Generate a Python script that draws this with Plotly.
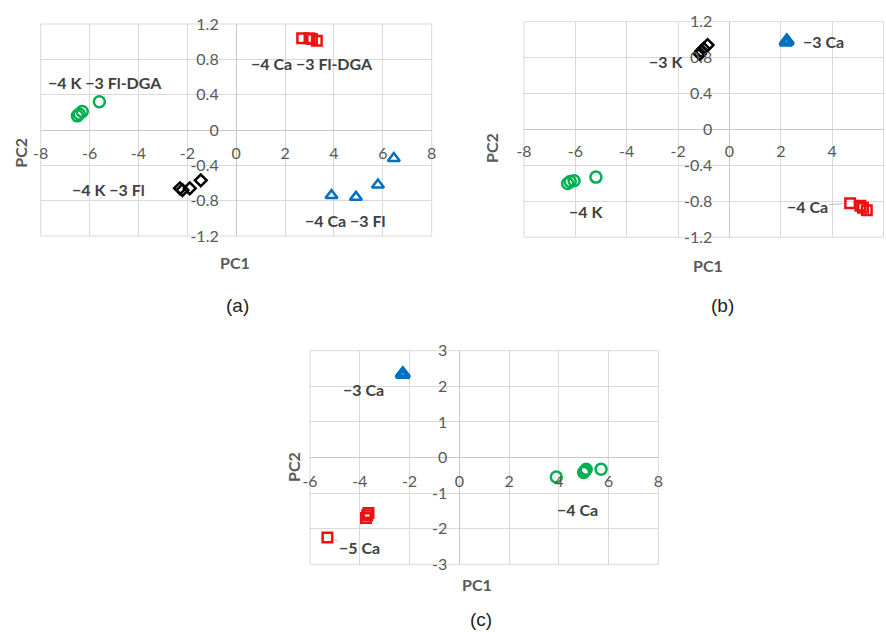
import plotly.graph_objects as go

# ---------------- data ----------------
# (a)
a_k_fldga_x = [-6.5, -6.42, -6.3, -5.6]
a_k_fldga_y = [0.16, 0.18, 0.21, 0.32]
a_ca_fldga_x = [2.7, 3.0, 3.1, 3.3]
a_ca_fldga_y = [1.04, 1.04, 1.03, 1.01]
a_ca_fl_x = [3.9, 4.9, 5.8, 6.45]
a_ca_fl_y = [-0.74, -0.76, -0.62, -0.32]
a_k_fl_x = [-2.3, -2.2, -1.9, -1.45]
a_k_fl_y = [-0.66, -0.68, -0.66, -0.57]

# (b)
b_k4_x = [-6.3, -6.2, -6.05, -5.2]
b_k4_y = [-0.6, -0.58, -0.57, -0.53]
b_k3_x = [-1.15, -1.1, -1.0, -0.85]
b_k3_y = [0.84, 0.87, 0.9, 0.94]
b_ca3_x = [2.2, 2.23, 2.26]
b_ca3_y = [0.97, 0.99, 0.98]
b_ca4_x = [4.7, 5.1, 5.2, 5.35]
b_ca4_y = [-0.82, -0.85, -0.87, -0.9]

# (c)
c_ca3_x = [-2.3, -2.27, -2.24]
c_ca3_y = [2.33, 2.36, 2.33]
c_ca4_x = [3.9, 5.0, 5.05, 5.1, 5.7]
c_ca4_y = [-0.55, -0.42, -0.38, -0.33, -0.33]
c_ca5_x = [-3.75, -3.7, -3.65, -5.3]
c_ca5_y = [-1.7, -1.62, -1.56, -2.25]

# tick positions and their labels (plain hyphen minus)
ab_x_ticks = [-8, -6, -4, -2, 0, 2, 4, 6, 8]
ab_x_text = ["-8", "-6", "-4", "-2", "0", "2", "4", "6", "8"]
ab_y_ticks = [-1.2, -0.8, -0.4, 0, 0.4, 0.8, 1.2]
ab_y_text = ["-1.2", "-0.8", "-0.4", "0", "0.4", "0.8", "1.2"]
c_x_ticks = [-6, -4, -2, 0, 2, 4, 6, 8]
c_x_text = ["-6", "-4", "-2", "0", "2", "4", "6", "8"]
c_y_ticks = [-3, -2, -1, 0, 1, 2, 3]
c_y_text = ["-3", "-2", "-1", "0", "1", "2", "3"]

GREEN = "#00b050"
RED = "#ee1111"
BLUE = "#0070c0"
BLACK = "#000000"

W, H = 886, 632
FONT = "Lato"
TICK_COLOR = "#595959"
GRID = "#d9d9d9"
LABEL_COLOR = "#404040"

fig = go.Figure()


def fx(px):
    return px / W


def fy(py):
    return 1 - py / H


def add_panel(idx, xr, yr, xt, xtt, yt, ytt, left, right, top, bottom,
              zero_x_px, zero_y_px, ystand):
    sfx = "" if idx == 1 else str(idx)
    common = dict(
        showgrid=True, gridcolor=GRID, gridwidth=1,
        zeroline=True, zerolinecolor="#c8c8c8", zerolinewidth=1,
        showline=False, ticks="", automargin=False, anchor="free",
        tickfont=dict(family=FONT, size=16, color=TICK_COLOR),
        tickmode="array",
    )
    fig.layout["xaxis" + sfx] = dict(
        domain=[fx(left), fx(right)], range=xr, tickvals=xt, ticktext=xtt,
        position=fy(zero_y_px), ticklabelstandoff=12, **common)
    fig.layout["yaxis" + sfx] = dict(
        domain=[fy(bottom), fy(top)], range=yr, tickvals=yt, ticktext=ytt,
        position=fx(zero_x_px), ticklabelstandoff=ystand, **common)
    fig.add_shape(type="rect", xref="x%s domain" % sfx, yref="y%s domain" % sfx,
                  x0=0, x1=1, y0=0, y1=1, line=dict(color=GRID, width=1),
                  layer="below")


def add_series(idx, xs, ys, symbol, color, size, lw=2.5):
    sfx = "" if idx == 1 else str(idx)
    fig.add_trace(go.Scatter(
        x=xs, y=ys, mode="markers", xaxis="x" + sfx, yaxis="y" + sfx,
        marker=dict(symbol=symbol, size=size, color=color,
                    line=dict(color=color, width=lw)),
        showlegend=False, cliponaxis=False,
    ))


def label(idx, x, y, text):
    sfx = "" if idx == 1 else str(idx)
    fig.add_annotation(x=x, y=y, xref="x" + sfx, yref="y" + sfx, text=text,
                       showarrow=False, xanchor="center", yanchor="middle",
                       font=dict(family=FONT, size=16, color=LABEL_COLOR))


def leader_label(idx, x, y, text, ax, ay):
    # data label joined to its point by a thin leader line
    sfx = "" if idx == 1 else str(idx)
    fig.add_annotation(x=x, y=y, xref="x" + sfx, yref="y" + sfx, text=text,
                       showarrow=True, arrowhead=0, arrowwidth=1,
                       arrowcolor="#bfbfbf", ax=ax, ay=ay, standoff=6,
                       font=dict(family=FONT, size=16, color=LABEL_COLOR))


def paper_text(px, py, text, size=16, bold=True, color=TICK_COLOR, angle=0, family=FONT):
    fig.add_annotation(x=fx(px), y=fy(py), xref="paper", yref="paper",
                       xanchor="center", yanchor="middle",
                       text="<b>%s</b>" % text if bold else text,
                       showarrow=False, textangle=angle,
                       font=dict(family=family, size=size, color=color))


# ---------- panel (a) ----------
add_panel(1, [-8, 8], [-1.2, 1.2], ab_x_ticks, ab_x_text, ab_y_ticks, ab_y_text,
          40.7, 431.7, 24, 236, 235.7, 130, 17)
add_series(1, a_k_fldga_x, a_k_fldga_y, "circle-open", GREEN, 11)
add_series(1, a_ca_fldga_x, a_ca_fldga_y, "square-open", RED, 9.5)
add_series(1, a_ca_fl_x, a_ca_fl_y, "triangle-up-open", BLUE, 10.5)
add_series(1, a_k_fl_x, a_k_fl_y, "diamond-open", BLACK, 9)
label(1, -5.38, 0.54, "<b>\u22124 K \u22123 Fl-DGA</b>")
label(1, 3.1, 0.755, "<b>\u22124 Ca \u22123 Fl-DGA</b>")
label(1, -5.21, -0.668, "<b>\u22124 K \u22123 Fl</b>")
label(1, 4.47, -1.03, "<b>\u22124 Ca \u22123 Fl</b>")
paper_text(20.7, 153, "PC2", angle=-90)
paper_text(235, 262, "PC1")
paper_text(237.7, 305, "(a)", size=19, bold=False, color="#222222", family="Liberation Sans")

# ---------- panel (b) ----------
add_panel(2, [-8, 6], [-1.2, 1.2], ab_x_ticks[:8], ab_x_text[:8], ab_y_ticks, ab_y_text,
          524, 883.5, 21.7, 237.3, 729.3, 128.3, 17)
add_series(2, b_k4_x, b_k4_y, "circle-open", GREEN, 11)
add_series(2, b_k3_x, b_k3_y, "diamond-open", BLACK, 9)
add_series(2, b_ca3_x, b_ca3_y, "triangle-up-open", BLUE, 10.5, lw=3.5)
add_series(2, b_ca4_x, b_ca4_y, "square-open", RED, 9.5)
label(2, 3.68, 0.976, "<b>\u22123 Ca</b>")
label(2, -2.46, 0.753, "<b>\u22123 K</b>")
label(2, -5.6, -0.91, "<b>\u22124 K</b>")
leader_label(2, b_ca4_x[0], b_ca4_y[0], "<b>\u22124 Ca</b>", -43, 3)
paper_text(491.7, 148.3, "PC2", angle=-90)
paper_text(708.3, 265, "PC1")
paper_text(722.7, 305, "(b)", size=19, bold=False, color="#222222", family="Liberation Sans")

# ---------- panel (c) ----------
add_panel(3, [-6, 8], [-3, 3], c_x_ticks, c_x_text, c_y_ticks, c_y_text,
          310, 658.3, 350.7, 564.3, 459.3, 457.7, 12)
add_series(3, c_ca3_x, c_ca3_y, "triangle-up-open", BLUE, 10.5, lw=3.5)
add_series(3, c_ca4_x, c_ca4_y, "circle-open", GREEN, 11)
add_series(3, c_ca5_x, c_ca5_y, "square-open", RED, 9.5)
label(3, -3.83, 1.92, "<b>\u22123 Ca</b>")
label(3, 4.74, -1.45, "<b>\u22124 Ca</b>")
leader_label(3, c_ca5_x[3], c_ca5_y[3], "<b>\u22125 Ca</b>", 32, 10)
paper_text(293.3, 466.7, "PC2", angle=-90)
paper_text(477.3, 584, "PC1")
paper_text(481, 619, "(c)", size=19, bold=False, color="#222222", family="Liberation Sans")

fig.update_layout(
    width=W, height=H, margin=dict(l=0, r=0, t=0, b=0, autoexpand=False),
    paper_bgcolor="white", plot_bgcolor="white", showlegend=False,
)

fig.write_html("out.html")
